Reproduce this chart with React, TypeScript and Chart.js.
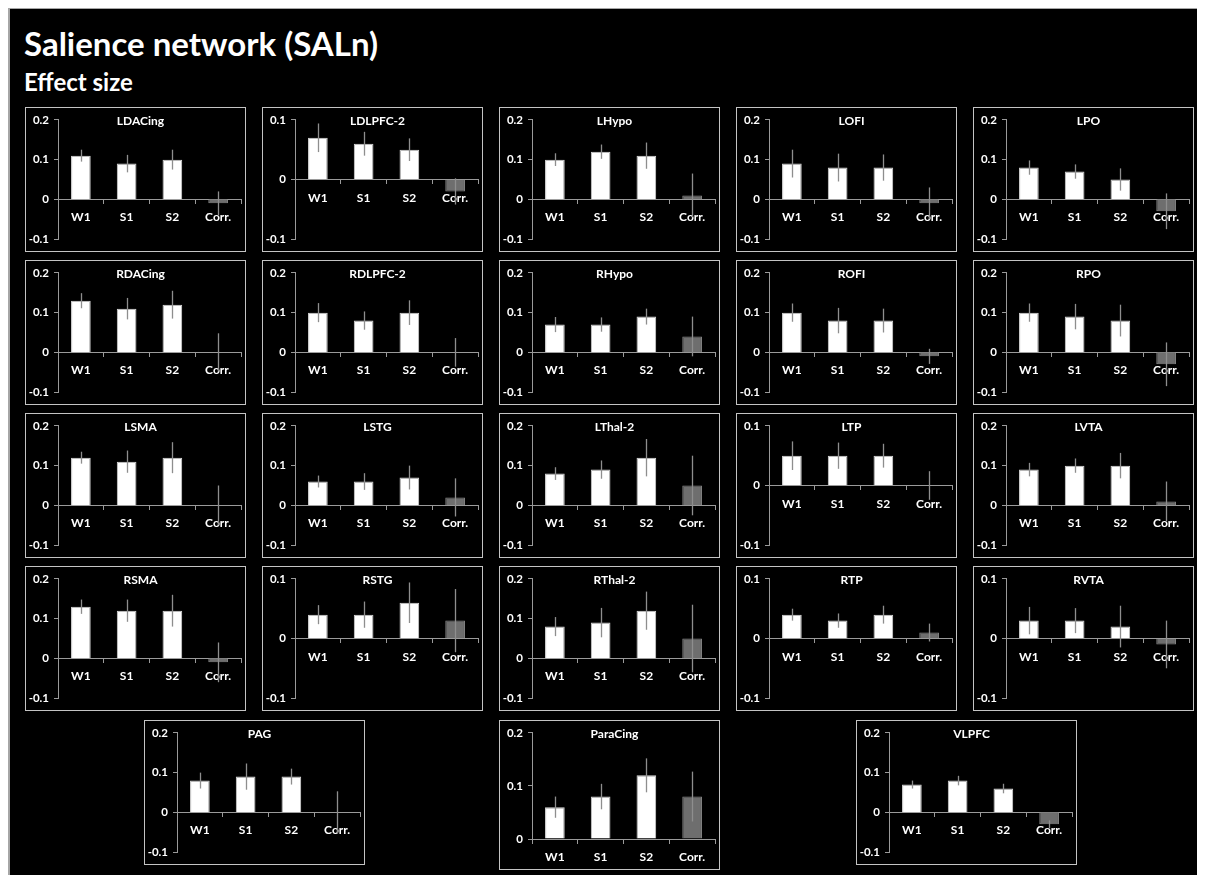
import React, { useEffect, useRef } from "react";
import { Chart, registerables } from "chart.js";
Chart.register(...registerables);

const FONT = "Lato";
const CATEGORIES = ["W1", "S1", "S2", "Corr."];

const RANGE_WIDE = [-0.1, 0.2];
const RANGE_NARROW = [-0.1, 0.1];
const RANGE_POS = [0, 0.2];

// values for W1, S1, S2, Corr. and their error half-widths
const LDACING = [0.11, 0.09, 0.10, -0.01];
const LDACING_ERR = [0.015, 0.022, 0.025, 0.03];
const LDLPFC2 = [0.07, 0.06, 0.05, -0.02];
const LDLPFC2_ERR = [0.024, 0.02, 0.019, 0.022];
const LHYPO = [0.10, 0.12, 0.11, 0.01];
const LHYPO_ERR = [0.016, 0.018, 0.033, 0.055];
const LOFI = [0.09, 0.08, 0.08, -0.01];
const LOFI_ERR = [0.035, 0.035, 0.033, 0.04];
const LPO = [0.08, 0.07, 0.05, -0.03];
const LPO_ERR = [0.018, 0.018, 0.028, 0.045];
const RDACING = [0.13, 0.11, 0.12, 0];
const RDACING_ERR = [0.019, 0.027, 0.035, 0.048];
const RDLPFC2 = [0.10, 0.08, 0.10, 0];
const RDLPFC2_ERR = [0.024, 0.023, 0.031, 0.036];
const RHYPO = [0.07, 0.07, 0.09, 0.04];
const RHYPO_ERR = [0.019, 0.018, 0.02, 0.05];
const ROFI = [0.10, 0.08, 0.08, -0.01];
const ROFI_ERR = [0.023, 0.032, 0.03, 0.019];
const RPO = [0.10, 0.09, 0.08, -0.03];
const RPO_ERR = [0.023, 0.032, 0.04, 0.055];
const LSMA = [0.12, 0.11, 0.12, 0];
const LSMA_ERR = [0.015, 0.028, 0.039, 0.05];
const LSTG = [0.06, 0.06, 0.07, 0.02];
const LSTG_ERR = [0.015, 0.021, 0.03, 0.048];
const LTHAL2 = [0.08, 0.09, 0.12, 0.05];
const LTHAL2_ERR = [0.016, 0.023, 0.047, 0.075];
const LTP = [0.05, 0.05, 0.05, 0];
const LTP_ERR = [0.024, 0.022, 0.02, 0.024];
const LVTA = [0.09, 0.10, 0.10, 0.01];
const LVTA_ERR = [0.017, 0.018, 0.032, 0.05];
const RSMA = [0.13, 0.12, 0.12, -0.01];
const RSMA_ERR = [0.018, 0.028, 0.04, 0.05];
const RSTG = [0.04, 0.04, 0.06, 0.03];
const RSTG_ERR = [0.016, 0.022, 0.034, 0.053];
const RTHAL2 = [0.08, 0.09, 0.12, 0.05];
const RTHAL2_ERR = [0.024, 0.037, 0.048, 0.085];
const RTP = [0.04, 0.03, 0.04, 0.01];
const RTP_ERR = [0.01, 0.012, 0.015, 0.015];
const RVTA = [0.03, 0.03, 0.02, -0.01];
const RVTA_ERR = [0.023, 0.021, 0.035, 0.04];
const PAG = [0.08, 0.09, 0.09, 0];
const PAG_ERR = [0.02, 0.033, 0.02, 0.053];
const PARACING = [0.06, 0.08, 0.12, 0.08];
const PARACING_ERR = [0.02, 0.024, 0.032, 0.047];
const VLPFC = [0.07, 0.08, 0.06, -0.03];
const VLPFC_ERR = [0.01, 0.012, 0.012, 0.01];

const PANELS = [
  { name: "LDACing", values: LDACING, errors: LDACING_ERR, range: RANGE_WIDE },
  { name: "LDLPFC-2", values: LDLPFC2, errors: LDLPFC2_ERR, range: RANGE_NARROW },
  { name: "LHypo", values: LHYPO, errors: LHYPO_ERR, range: RANGE_WIDE },
  { name: "LOFI", values: LOFI, errors: LOFI_ERR, range: RANGE_WIDE },
  { name: "LPO", values: LPO, errors: LPO_ERR, range: RANGE_WIDE },
  { name: "RDACing", values: RDACING, errors: RDACING_ERR, range: RANGE_WIDE },
  { name: "RDLPFC-2", values: RDLPFC2, errors: RDLPFC2_ERR, range: RANGE_WIDE },
  { name: "RHypo", values: RHYPO, errors: RHYPO_ERR, range: RANGE_WIDE },
  { name: "ROFI", values: ROFI, errors: ROFI_ERR, range: RANGE_WIDE },
  { name: "RPO", values: RPO, errors: RPO_ERR, range: RANGE_WIDE },
  { name: "LSMA", values: LSMA, errors: LSMA_ERR, range: RANGE_WIDE },
  { name: "LSTG", values: LSTG, errors: LSTG_ERR, range: RANGE_WIDE },
  { name: "LThal-2", values: LTHAL2, errors: LTHAL2_ERR, range: RANGE_WIDE },
  { name: "LTP", values: LTP, errors: LTP_ERR, range: RANGE_NARROW },
  { name: "LVTA", values: LVTA, errors: LVTA_ERR, range: RANGE_WIDE },
  { name: "RSMA", values: RSMA, errors: RSMA_ERR, range: RANGE_WIDE },
  { name: "RSTG", values: RSTG, errors: RSTG_ERR, range: RANGE_NARROW },
  { name: "RThal-2", values: RTHAL2, errors: RTHAL2_ERR, range: RANGE_WIDE },
  { name: "RTP", values: RTP, errors: RTP_ERR, range: RANGE_NARROW },
  { name: "RVTA", values: RVTA, errors: RVTA_ERR, range: RANGE_NARROW },
  { name: "PAG", values: PAG, errors: PAG_ERR, range: RANGE_WIDE },
  { name: "ParaCing", values: PARACING, errors: PARACING_ERR, range: RANGE_POS },
  { name: "VLPFC", values: VLPFC, errors: VLPFC_ERR, range: RANGE_WIDE },
];

// layout boxes: [left, top, width, height]
const COL_X = [25, 262, 499, 736, 973];
const ROW_Y = [107, 260, 413, 566];
const BOXES: number[][] = [];
ROW_Y.forEach((y) => COL_X.forEach((x) => BOXES.push([x, y, 221, 145])));
BOXES.push([144, 720, 221, 145]);
BOXES.push([499, 720, 221, 150]);
BOXES.push([856, 720, 221, 145]);

const AXIS = "#9a9a9a";

const errorBarPlugin = {
  id: "errorBars",
  afterDatasetsDraw(chart: any, _args: any, opts: any) {
    const { ctx } = chart;
    const y = chart.scales.y;
    const meta = chart.getDatasetMeta(0);
    const vals = chart.data.datasets[0].data as number[];
    const errs: number[] = opts.errors || [];
    ctx.save();
    ctx.strokeStyle = "#8e8e8e";
    ctx.lineWidth = 1.3;
    vals.forEach((v, i) => {
      const px = Math.round(meta.data[i].x) + 0.5;
      const t = y.getPixelForValue(v + errs[i]);
      const b = y.getPixelForValue(v - errs[i]);
      ctx.beginPath();
      ctx.moveTo(px, t);
      ctx.lineTo(px, b);
      ctx.stroke();
    });
    ctx.restore();
  },
};

const panelTitlePlugin = {
  id: "panelTitle",
  afterDraw(chart: any, _args: any, opts: any) {
    const { ctx } = chart;
    ctx.save();
    ctx.font = `bold 12px ${FONT}`;
    ctx.fillStyle = "#ffffff";
    ctx.textAlign = "center";
    ctx.textBaseline = "middle";
    ctx.fillText(opts.text, chart.width / 2 + 5, 13);
    ctx.restore();
  },
};

function Panel({ panel, box }: { panel: any; box: number[] }) {
  const ref = useRef<HTMLCanvasElement>(null);
  const [left, top, w, h] = box;
  const cw = w - 2;
  const ch = h - 2;
  useEffect(() => {
    if (!ref.current) return;
    const [min, max] = panel.range;
    const padBottom = min === 0 ? 30 : 9;
    const tickFont = { family: FONT, weight: "bold" as const, size: 11.5 };
    const catFont = { family: FONT, weight: "bold" as const, size: 12 };
    const chart = new Chart(ref.current, {
      type: "bar",
      data: {
        labels: CATEGORIES,
        datasets: [
          {
            data: panel.values,
            backgroundColor: panel.values.map((_: number, i: number) => (i === 3 ? "#6e6e6e" : "#ffffff")),
            borderColor: panel.values.map((_: number, i: number) => (i === 3 ? "#8a8a8a" : "#d8d8d8")),
            borderWidth: 1,
            barPercentage: 0.43,
            categoryPercentage: 1,
          },
        ],
      },
      options: {
        responsive: false,
        animation: false,
        devicePixelRatio: 1,
        layout: { padding: { top: 9, right: 4, bottom: padBottom, left: 0 } },
        plugins: {
          legend: { display: false },
          tooltip: { enabled: false },
          title: { display: false },
          errorBars: { errors: panel.errors },
          panelTitle: { text: panel.name },
        } as any,
        scales: {
          x: {
            position: { y: 0 } as any,
            grid: { display: true, drawOnChartArea: false, offset: true, tickLength: 4, color: AXIS, lineWidth: 1 },
            border: { color: AXIS, width: 1 },
            ticks: { color: "#ffffff", font: catFont, padding: 7, maxRotation: 0 },
          },
          y: {
            min,
            max,
            afterFit: (s: any) => {
              s.width = 32;
            },
            ticks: {
              stepSize: 0.1,
              color: "#ffffff",
              font: tickFont,
              padding: 5,
              callback: (v: any) => String(Math.round(Number(v) * 10) / 10),
            },
            grid: { drawOnChartArea: false, tickLength: 4, color: AXIS },
            border: { color: AXIS, width: 1 },
          },
        },
      },
      plugins: [errorBarPlugin, panelTitlePlugin],
    });
    return () => chart.destroy();
  }, [panel]);
  return (
    <div
      style={{
        position: "absolute",
        left,
        top,
        width: cw,
        height: ch,
        border: "1px solid #c4c4c4",
        background: "#000",
      }}
    >
      <canvas ref={ref} width={cw} height={ch} style={{ display: "block" }} />
    </div>
  );
}

export default function App() {
  return (
    <div style={{ position: "relative", width: 1205, height: 883, background: "#a6a6a6", margin: -8, overflow: "hidden" }}>
      <div style={{ position: "absolute", left: 10, top: 9, right: 0, bottom: 0, background: "#000" }} />
      <div
        style={{
          position: "absolute",
          left: 24,
          top: 23,
          color: "#fff",
          fontFamily: FONT,
          fontWeight: 700,
          fontSize: 33,
          lineHeight: "40px",
          whiteSpace: "nowrap",
        }}
      >
        Salience network (SALn)
      </div>
      <div
        style={{
          position: "absolute",
          left: 24,
          top: 68,
          color: "#fff",
          fontFamily: FONT,
          fontWeight: 700,
          fontSize: 24,
          lineHeight: "28px",
          whiteSpace: "nowrap",
        }}
      >
        Effect size
      </div>
      {PANELS.map((p, i) => (
        <Panel key={p.name} panel={p} box={BOXES[i]} />
      ))}
    </div>
  );
}
